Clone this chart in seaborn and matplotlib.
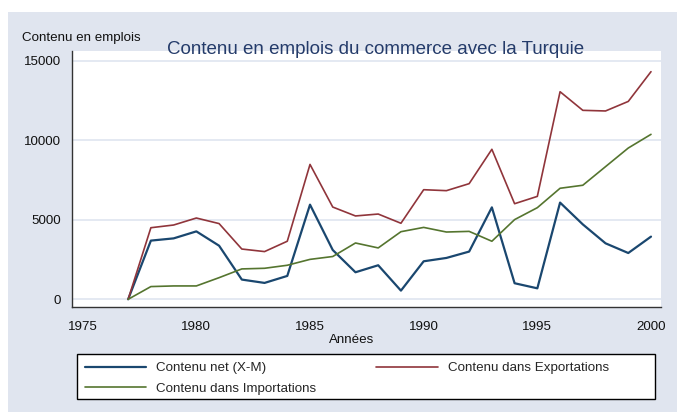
import matplotlib
matplotlib.use('Agg')
import matplotlib.pyplot as plt
from matplotlib.patches import Rectangle
import pandas as pd
import seaborn as sns

# values
annees = list(range(1977, 2001))
net = [0, 3690, 3830, 4270, 3370, 1240, 1030, 1470, 5950, 3100,
       1700, 2140, 545, 2390, 2600, 3000, 5780, 1010, 690,
       6080, 4710, 3520, 2910, 3940]
exportations = [0, 4500, 4670, 5110, 4760, 3160, 3000, 3650, 8480, 5800,
                5240, 5360, 4780, 6890, 6830, 7270, 9430, 6010, 6470,
                13050, 11880, 11840, 12440, 14310]
importations = [0, 800, 840, 840, 1360, 1910, 1950, 2140, 2510, 2690,
                3540, 3230, 4250, 4520, 4230, 4270, 3650, 5010, 5760,
                6980, 7170, 8340, 9510, 10370]

series = ['Contenu net (X-M)', 'Contenu dans Exportations', 'Contenu dans Importations']
couleurs = ['#1A476F', '#90353B', '#55752F']
epaisseurs = [1.6, 1.2, 1.2]
yticks = [0, 5000, 10000, 15000]
xticks = [1975, 1980, 1985, 1990, 1995, 2000]

df = pd.DataFrame({'annee': annees * 3,
                   'valeur': net + exportations + importations,
                   'serie': [s for s in series for _ in annees]})

sns.set_style('white')
plt.rcParams['font.family'] = ['Liberation Sans', 'DejaVu Sans']

W, H = 677, 412
fs = 9.6
fig = plt.figure(figsize=(W / 100, H / 100), dpi=100)
fig.patch.set_facecolor('white')
fond = '#E0E5EF'
fig.add_artist(Rectangle((8 / W, 0), 1, 1 - 12 / H, transform=fig.transFigure,
                         facecolor=fond, edgecolor='none', zorder=-1))

ax = fig.add_axes([72 / W, 1 - 307 / H, 589 / W, 256 / H])
ax.set_facecolor('white')

for s, c, lw in zip(series, couleurs, epaisseurs):
    sns.lineplot(data=df[df['serie'] == s], x='annee', y='valeur', color=c,
                 linewidth=lw, label=s, ax=ax, zorder=3)
if ax.get_legend():
    ax.get_legend().remove()

ax.set_xlim(1974.53, 2000.44)
ax.set_ylim(-484, 15610)
ax.set_xticks(xticks)
ax.set_yticks(yticks)
ax.yaxis.grid(True, color='#DCE3EF', linewidth=1.1)
ax.xaxis.grid(False)
for side in ['top', 'right']:
    ax.spines[side].set_visible(False)
for side in ['left', 'bottom']:
    ax.spines[side].set_color('#333333')
    ax.spines[side].set_linewidth(1.0)
ax.tick_params(axis='both', direction='out', length=5, width=0.9, color='#333333',
               labelsize=fs, labelcolor='#111111', pad=3)
ax.tick_params(axis='x', pad=5)
ax.set_xlabel('Années', fontsize=fs, color='#111111')
ax.xaxis.set_label_coords((352 - 72) / 589, (307 - 334) / 256)
ax.set_ylabel('')

fig.text(22 / W, 1 - 38 / H, 'Contenu en emplois', fontsize=fs, color='#111111',
         ha='left', va='center')
fig.text(376 / W, 1 - 49 / H, 'Contenu en emplois du commerce avec la Turquie',
         fontsize=13.5, color='#243B6A', ha='center', va='center', zorder=5)

# legend box
fig.add_artist(Rectangle((77 / W, 1 - 399 / H), (655 - 77) / W, 45 / H,
                         transform=fig.transFigure, facecolor='white',
                         edgecolor='black', linewidth=1.0, zorder=2))
handles, labels = ax.get_legend_handles_labels()
ordre = [0, 2, 1]
fig.legend([handles[i] for i in ordre], [labels[i] for i in ordre], ncol=2,
           loc='upper left', bbox_to_anchor=(85 / W, 1 - 362 / H),
           frameon=False, fontsize=fs, handlelength=4.6, handletextpad=0.75,
           columnspacing=4.5, labelspacing=0.62, borderpad=0, borderaxespad=0)

fig.savefig('out.png', dpi=100)
